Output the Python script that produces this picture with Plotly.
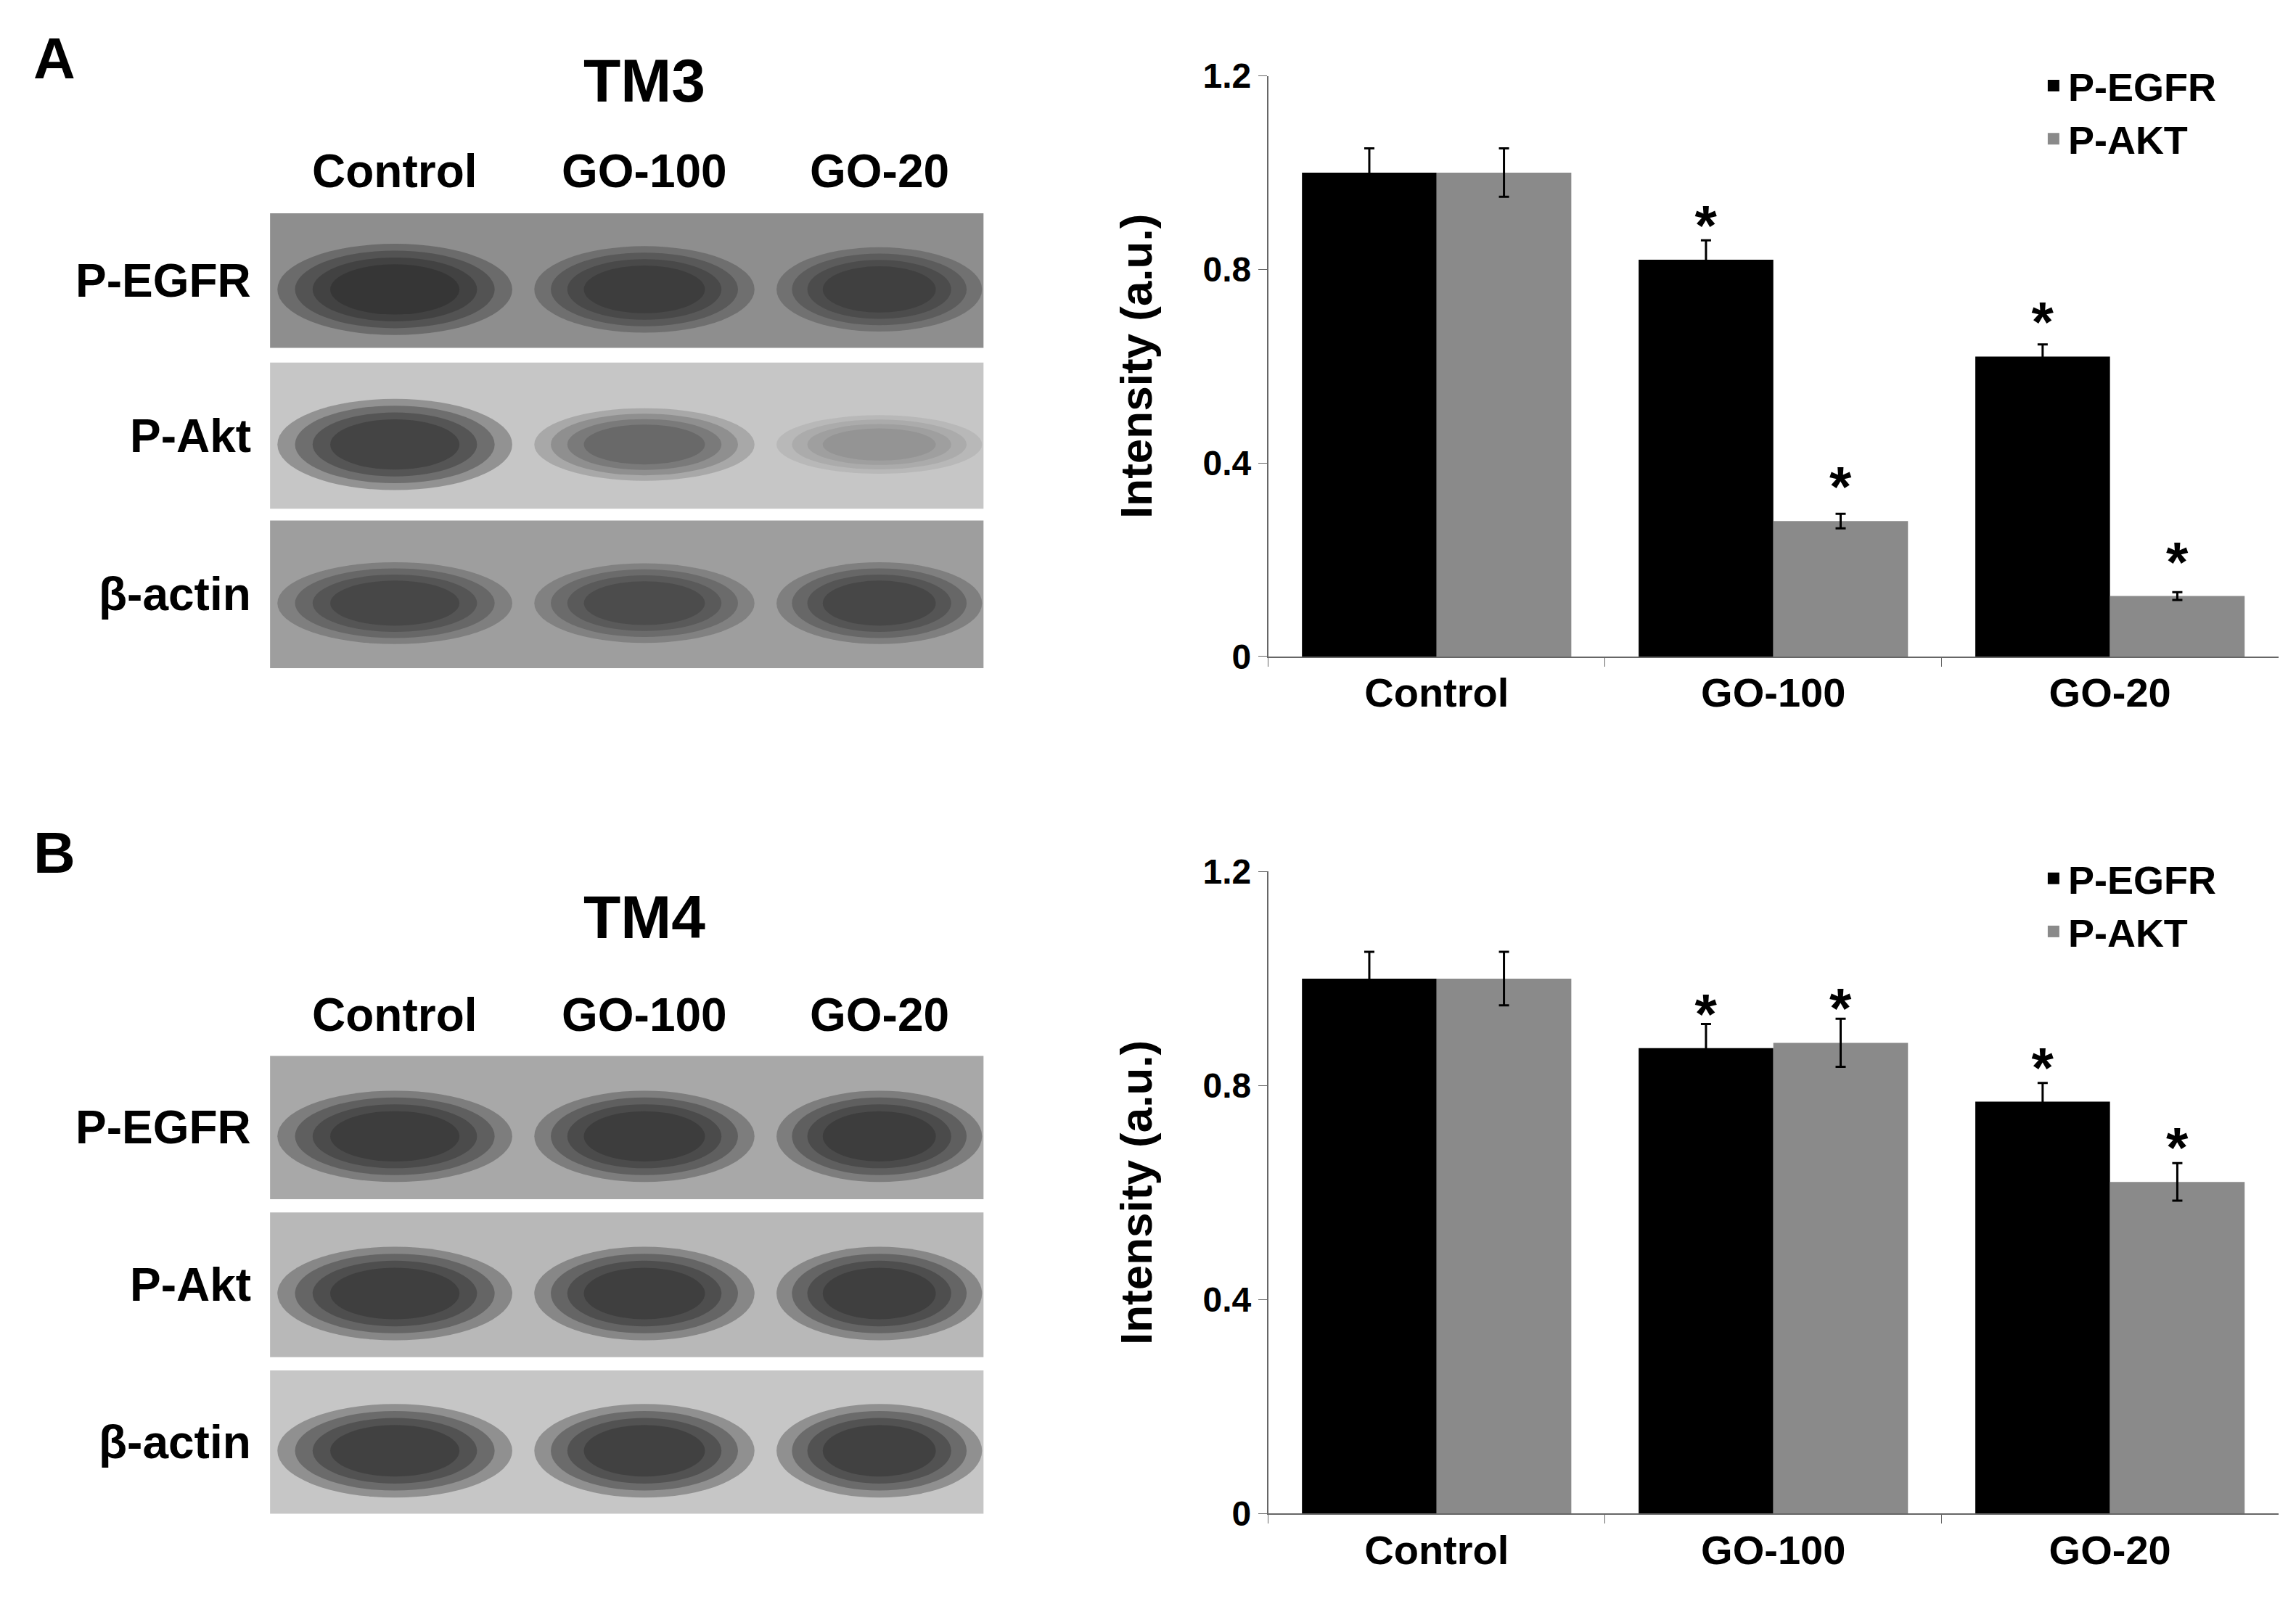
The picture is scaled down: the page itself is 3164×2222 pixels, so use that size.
import plotly.graph_objects as go

categories = ["Control", "GO-100", "GO-20"]
series = ["P-EGFR", "P-AKT"]
colors = ["#000000", "#8a8a8a"]

tm3_egfr = [1.0, 0.82, 0.62]
tm3_akt = [1.0, 0.28, 0.125]
tm3_egfr_err = [0.05, 0.04, 0.025]
tm3_akt_err = [0.05, 0.015, 0.008]
tm3_egfr_sig = ["", "*", "*"]
tm3_akt_sig = ["", "*", "*"]

tm4_egfr = [1.0, 0.87, 0.77]
tm4_akt = [1.0, 0.88, 0.62]
tm4_egfr_err = [0.05, 0.045, 0.035]
tm4_akt_err = [0.05, 0.045, 0.035]
tm4_egfr_sig = ["", "*", "*"]
tm4_akt_sig = ["", "*", "*"]

y_ticks = [0, 0.4, 0.8, 1.2]
y_tick_labels = ["0", "0.4", "0.8", "1.2"]

blot_rows = ["P-EGFR", "P-Akt", "β-actin"]
tm3_band_strength = [[0.95, 0.85, 0.8], [0.95, 0.55, 0.25], [0.75, 0.7, 0.75]]
tm4_band_strength = [[0.95, 0.95, 0.95], [1.0, 1.0, 1.0], [1.0, 1.0, 1.0]]
tm3_bg = ["#8e8e8e", "#c6c6c6", "#9e9e9e"]
tm4_bg = ["#a8a8a8", "#b8b8b8", "#c6c6c6"]

F = dict(family="Liberation Sans, Arial, sans-serif", color="black")

def px(x): return x / 1564.0
def py(y): return 1 - ((y - 17) / 0.978) / 1100.0

fig = go.Figure()
panels = [
    dict(x="x", y="y", egfr=tm3_egfr, akt=tm3_akt, ee=tm3_egfr_err, ae=tm3_akt_err,
         es=tm3_egfr_sig, as_=tm3_akt_sig, dom_y=[py(449), py(52)], leg="legend"),
    dict(x="x2", y="y2", egfr=tm4_egfr, akt=tm4_akt, ee=tm4_egfr_err, ae=tm4_akt_err,
         es=tm4_egfr_sig, as_=tm4_akt_sig, dom_y=[py(1035), py(596)], leg="legend2"),
]
for p in panels:
    for name, vals, err, sig, col in [(series[0], p["egfr"], p["ee"], p["es"], colors[0]),
                                       (series[1], p["akt"], p["ae"], p["as_"], colors[1])]:
        fig.add_trace(go.Bar(x=categories, y=vals, name=name, marker_color=col, marker_line_width=0,
                             error_y=dict(type="data", array=err, color="black", thickness=3, width=7),
                             text=["<b>%s</b>" % s if s else "" for s in sig], textposition="outside",
                             textfont=dict(size=78, **F),
                             cliponaxis=False, xaxis=p["x"], yaxis=p["y"], showlegend=False))
    for name, col in zip(series, colors):
        fig.add_trace(go.Scatter(x=[None], y=[None], mode="markers", name="<b>%s</b>" % name,
                                 marker=dict(symbol="square", size=30, color=col),
                                 xaxis=p["x"], yaxis=p["y"], legend=p["leg"]))

ax = dict(showgrid=False, showline=True, linecolor="#666", linewidth=2, ticks="outside",
          ticklen=12, tickcolor="#666")
xt = dict(tickson="boundaries", tickvals=categories, ticktext=["<b>%s</b>" % c for c in categories],
          tickfont=dict(size=56, **F), domain=[px(860), px(1548)], **ax)
yt = dict(range=[0, 1.2], tickvals=y_ticks, ticktext=["<b>%s</b>" % t for t in y_tick_labels],
          tickfont=dict(size=48, **F), zeroline=False,
          title=dict(text="<b>Intensity (a.u.)</b>", font=dict(size=62, **F), standoff=50), **ax)
leg = dict(xanchor="left", yanchor="top", font=dict(size=54, **F), bgcolor="rgba(0,0,0,0)",
           tracegroupgap=0, itemwidth=30)
fig.update_layout(
    width=3164, height=2222, margin=dict(l=0, r=0, t=0, b=0),
    plot_bgcolor="white", paper_bgcolor="white", barmode="group", bargap=0.2, bargroupgap=0,
    xaxis=dict(anchor="y", **xt), yaxis=dict(domain=panels[0]["dom_y"], anchor="x", **yt),
    xaxis2=dict(anchor="y2", **xt), yaxis2=dict(domain=panels[1]["dom_y"], anchor="x2", **yt),
    legend=dict(x=px(1385), y=py(38), **leg),
    legend2=dict(x=px(1385), y=py(580), **leg),
)

shapes, ann = [], []
band_x = [265, 435, 595]
band_w = [160, 150, 140]
blots = [
    dict(rows=[(146, 238), (248, 348), (356, 457)], bg=tm3_bg, st=tm3_band_strength,
         title_y=55, cols_y=117, label="A", label_y=40, title="TM3"),
    dict(rows=[(722, 820), (829, 928), (937, 1035)], bg=tm4_bg, st=tm4_band_strength,
         title_y=627, cols_y=694, label="B", label_y=583, title="TM4"),
]
def T(x, y, text, size, xa="center"):
    ann.append(dict(x=px(x), y=py(y), text=text, showarrow=False, xanchor=xa, yanchor="middle",
                    font=dict(size=size, **F), xref="paper", yref="paper"))
for b in blots:
    T(33, b["label_y"], "<b>%s</b>" % b["label"], 80)
    T(435, b["title_y"], "<b>%s</b>" % b["title"], 84)
    for c, bx in zip(categories, band_x):
        T(bx, b["cols_y"], "<b>%s</b>" % c, 64)
    for r, (y0, y1) in enumerate(b["rows"]):
        shapes.append(dict(type="rect", xref="paper", yref="paper", x0=px(180), x1=px(666),
                           y0=py(y1), y1=py(y0), fillcolor=b["bg"][r], line_width=0, layer="below"))
        T(168, (y0 + y1) / 2, "<b>%s</b>" % blot_rows[r], 64, "right")
        ym = (y0 + y1) / 2 + 6
        for k, bx in enumerate(band_x):
            s = b["st"][r][k]
            hh = 16 + 16 * s
            for f in [1.0, 0.85, 0.7, 0.55]:
                shapes.append(dict(type="circle", xref="paper", yref="paper",
                                   x0=px(bx - band_w[k] / 2 * f), x1=px(bx + band_w[k] / 2 * f),
                                   y0=py(ym + hh * f), y1=py(ym - hh * f), fillcolor="#1e1e1e",
                                   opacity=s * 0.32, line_width=0, layer="below"))
fig.update_layout(shapes=shapes, annotations=ann)
fig.write_html("out.html")
